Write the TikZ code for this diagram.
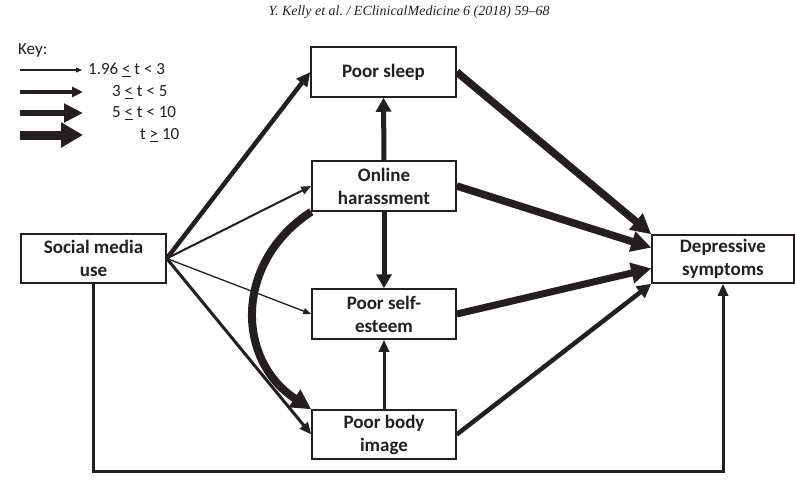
\documentclass[tikz,border=0pt]{standalone}
\usepackage{fontspec}
\setmainfont{Carlito}
\newfontfamily\hdrfont{Liberation Serif}
\usetikzlibrary{arrows.meta,calc}
\definecolor{ink}{HTML}{231F20}
\pgfdeclarelayer{bg}
\pgfsetlayers{bg,main}
\begin{document}
\begin{tikzpicture}[x=1pt,y=-1pt,
  box/.style={draw=ink, line width=1.5pt, fill=white, minimum width=144pt, minimum height=49pt,
    align=center, font=\fontsize{19}{23}\selectfont\bfseries, text=ink, inner sep=0pt},
  keytext/.style={anchor=west, font=\fontsize{17}{20}\selectfont, text=ink, inner sep=0pt},
  ar/.style n args={3}{draw=ink, line width=#1, -{Triangle[length=#2, width=#3]}},
]
\useasboundingbox (0,0) rectangle (795,483);

% header
\node[font=\hdrfont\itshape\fontsize{14}{16}\selectfont, text=ink] (hdr) at (409,12) {Y. Kelly et al.\ / EClinicalMedicine 6 (2018) 59–68};

% key
\node[keytext] (key) at (18,50) {Key:};
\coordinate (k1s) at (20,70);  \coordinate (k1e) at (82,70);
\coordinate (k2s) at (20,92);  \coordinate (k2e) at (83,92);
\coordinate (k3s) at (20,113); \coordinate (k3e) at (83,113);
\coordinate (k4s) at (20,135); \coordinate (k4e) at (83,135);
\draw[ar={1.2pt}{6pt}{5pt}] (k1s) -- (k1e);
\draw[ar={3.5pt}{11pt}{10pt}] (k2s) -- (k2e);
\draw[ar={6.5pt}{19pt}{18pt}] (k3s) -- (k3e);
\draw[ar={9pt}{22pt}{24pt}] (k4s) -- (k4e);
\node[keytext] (kt1) at (88,70) {1.96 \underline{<} t < 3};
\node[keytext] (kt2) at (112,92) {3 \underline{<} t < 5};
\node[keytext] (kt3) at (112,113) {5 \underline{<} t < 10};
\node[keytext] (kt4) at (140,135) {t \underline{>} 10};

% boxes
\node[box, minimum width=145pt, minimum height=50pt] (sleep) at (383.5,72) {Poor sleep};
\node[box, minimum height=50pt] (oh) at (384,186) {Online\\harassment};
\node[box, minimum height=50pt] (pse) at (384,314) {Poor self-\\esteem};
\node[box] (pbi) at (384,434.5) {Poor body\\image};
\node[box, minimum width=145pt] (smu) at (93.5,258.5) {Social media\\use};
\node[box, minimum width=142pt, minimum height=48pt] (ds) at (723,259) {Depressive\\symptoms};

\coordinate (bot) at (400,471);

\begin{pgfonlayer}{bg}
% from social media use
\draw[ar={4.5pt}{14pt}{13pt}] (smu.east) -- (sleep.west);
\draw[ar={2pt}{10pt}{8pt}] (smu.east) -- (oh.west);
\draw[ar={1.3pt}{8pt}{6pt}] (smu.east) -- (pse.west);
\draw[ar={3pt}{12pt}{10pt}] (smu.east) -- (pbi.west);
\draw[ar={3pt}{12pt}{10pt}] (smu.south) -- (smu.south |- bot) -| (ds.south);
% from online harassment
\draw[ar={5pt}{14pt}{15pt}] (oh.north) -- (sleep.south);
\draw[ar={5pt}{14pt}{15pt}] (oh.south) -- (pse.north);
\draw[ar={8pt}{20pt}{20pt}] (oh.south west) .. controls (234,262) and (236,360) .. (pbi.north west);
\draw[ar={7.5pt}{20pt}{20pt}] (oh.east) -- ($(ds.north west)!0.27!(ds.south west)$);
% body image
\draw[ar={3pt}{12pt}{10pt}] (pbi.north) -- (pse.south);
\draw[ar={4.5pt}{14pt}{14pt}] (pbi.east) -- (ds.south west);
% to depressive symptoms
\draw[ar={7.5pt}{20pt}{20pt}] (sleep.east) -- (ds.north west);
\draw[ar={7pt}{20pt}{20pt}] (pse.east) -- ($(ds.north west)!0.69!(ds.south west)$);
\end{pgfonlayer}
\end{tikzpicture}
\end{document}
